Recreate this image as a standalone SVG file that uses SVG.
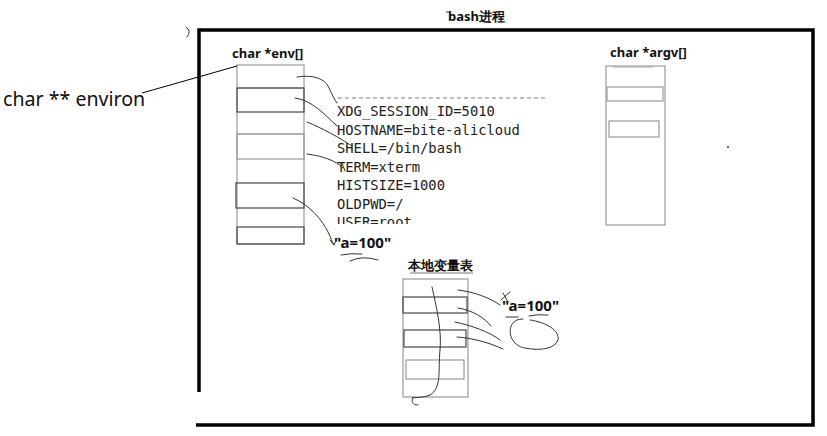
<svg xmlns="http://www.w3.org/2000/svg" width="827" height="436" viewBox="0 0 827 436">
<defs>
<style>
.hd{font-family:"Noto Sans","Liberation Sans",sans-serif;font-weight:bold;font-size:13px;fill:#111}
.mono{font-family:"DejaVu Sans Mono","Liberation Mono",monospace;font-size:13.8px;fill:#222}
.cell{fill:none;stroke:#9a9a9a;stroke-width:1.2}
.cellb{fill:none;stroke:#555;stroke-width:1.3}
.ink{fill:none;stroke:#333;stroke-width:1;stroke-linecap:round}
.val{font-family:"Noto Sans","Liberation Sans",sans-serif;font-weight:bold;font-size:15px;fill:#111}
</style>
<clipPath id="clipUser"><rect x="330" y="214" width="200" height="10"/></clipPath>
</defs>
<rect width="827" height="436" fill="#fff"/>

<g id="frame">
<path d="M199,392 V30 H813 V425 H196" fill="none" stroke="#000" stroke-width="3.5"/>
<text x="448" y="21" class="hd" font-size="13.5">bash进程</text>
<path d="M446,12 H450" stroke="#333" stroke-width="1"/>
<path d="M186,27 Q192,31 187,37" class="ink" stroke="#888"/>
<circle cx="728" cy="147" r="1" fill="#333"/>
</g>

<g id="environ">
<text x="3" y="106" font-family="'Noto Sans','Liberation Sans',sans-serif" font-size="19.6" fill="#111">char ** environ</text>
</g>

<g id="env">
<text x="232" y="58" class="hd">char *env[]</text>
<rect x="237" y="65" width="67" height="179" class="cell"/>
<line x1="237" y1="88" x2="304" y2="88" class="cell"/>
<rect x="237" y="88" width="67" height="24" class="cellb"/>
<line x1="237" y1="134" x2="304" y2="134" class="cell"/>
<rect x="237" y="134" width="67" height="25" class="cell"/>
<rect x="236" y="183" width="68" height="25" class="cellb"/>
<rect x="237" y="227" width="67" height="17" class="cellb"/>
</g>

<g id="env-strings">
<line x1="338" y1="98" x2="545" y2="98" stroke="#aaa" stroke-width="1.5" stroke-dasharray="4,3"/>
<text x="337" y="116" class="mono">XDG_SESSION_ID=5010</text>
<text x="337" y="135" class="mono">HOSTNAME=bite-alicloud</text>
<text x="337" y="153" class="mono">SHELL=/bin/bash</text>
<text x="337" y="172" class="mono">TERM=xterm</text>
<text x="337" y="190" class="mono">HISTSIZE=1000</text>
<text x="337" y="209" class="mono">OLDPWD=/</text>
<text x="337" y="227" class="mono" clip-path="url(#clipUser)">USER=root</text>
<text x="334" y="248" class="val">"a=100"</text>
</g>

<g id="local">
<text x="408" y="270" class="hd" font-size="13.5">本地变量表</text>
<path d="M410,273 H473" stroke="#555" stroke-width="0.8"/>
<rect x="403" y="279" width="65" height="118" class="cell"/>
<rect x="403" y="297" width="64" height="16" class="cellb"/>
<rect x="404" y="330" width="62" height="17" class="cellb"/>
<rect x="406" y="360" width="58" height="19" class="cell"/>
<text x="502" y="311" class="val">"a=100"</text>
</g>

<g id="argv">
<text x="610" y="57" class="hd">char *argv[]</text>
<rect x="606" y="66" width="59" height="159" class="cell"/>
<line x1="613" y1="67" x2="653" y2="67" stroke="#aaa" stroke-width="1"/>
<rect x="607" y="87" width="56" height="14" class="cell"/>
<rect x="609" y="121" width="50" height="16" class="cell"/>
</g>

<g id="connectors">
<path d="M142,93 L237,66" stroke="#000" stroke-width="1" fill="none"/>
<path d="M297,77 C315,74 325,80 328,86 C332,94 334,99 337,103" class="ink"/>
<path d="M295,98 C312,100 325,115 337,126" class="ink"/>
<path d="M307,122 C322,128 340,138 352,146" class="ink"/>
<path d="M307,154 C322,156 335,160 343,168" class="ink"/>
<path d="M342,163 L345,171" class="ink"/>
<path d="M293,198 C310,205 322,220 328,232 C331,238 332,242 334,245 M330,240 L334,245 L337,238" class="ink"/>
<path d="M341,255 Q350,253 362,254" class="ink" stroke="#666"/>
<path d="M350,261 Q362,255 378,260" class="ink" stroke="#666"/>
<path d="M432,287 C436,305 442,330 440,350 C438,370 442,388 430,395 C424,398 417,397 413,398 M413,397 C411,401 412,405 418,405" class="ink" stroke="#444"/>
<path d="M458,290 C475,292 490,298 500,305" class="ink"/>
<path d="M458,308 C472,310 485,318 491,326" class="ink"/>
<path d="M455,322 C470,325 490,332 500,340" class="ink"/>
<path d="M457,337 C473,338 490,343 503,349" class="ink"/>
<path d="M501,300 L510,292 M503,293 L508,302" class="ink"/>
<path d="M506,317 H518 M529,316 Q538,314 548,315" class="ink"/>
<path d="M523,319 C505,318 506,345 525,348 C540,351 555,349 558,340 C560,330 545,322 530,320" class="ink"/>
</g>
</svg>
